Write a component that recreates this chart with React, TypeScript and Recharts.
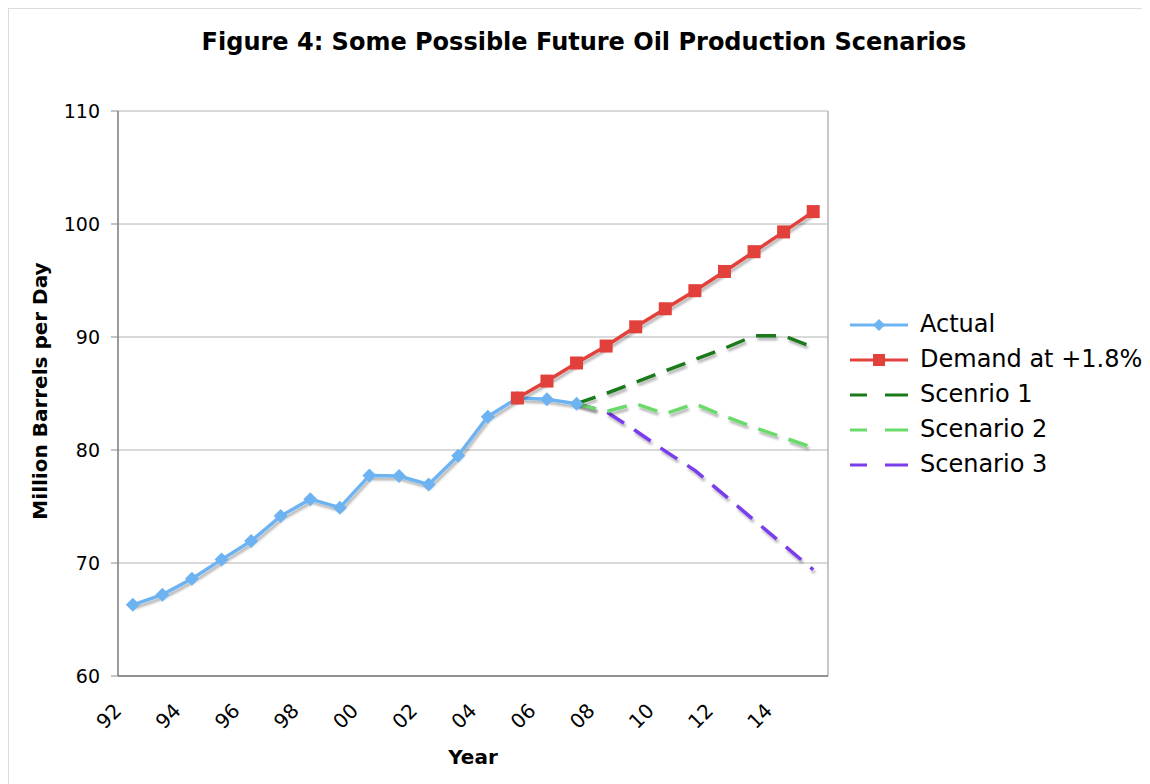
import React from 'react';
import { LineChart, Line, XAxis, YAxis, CartesianGrid, Legend, ReferenceLine } from 'recharts';

const FONT = '"DejaVu Sans", Verdana, sans-serif';

// Categories (years 1992-2015)
const years = ['92','93','94','95','96','97','98','99','00','01','02','03','04','05','06','07','08','09','10','11','12','13','14','15'];
const labelTicks = [0, 2, 4, 6, 8, 10, 12, 14, 16, 18, 20, 22];
const boundaryTicks = [-0.5,0.5,1.5,2.5,3.5,4.5,5.5,6.5,7.5,8.5,9.5,10.5,11.5,12.5,13.5,14.5,15.5,16.5,17.5,18.5,19.5,20.5,21.5,22.5,23.5];
const yTicks = [60, 70, 80, 90, 100, 110];

// Series values (million barrels per day)
const actual = [66.3, 67.2, 68.6, 70.3, 71.95, 74.15, 75.65, 74.9, 77.75, 77.7, 76.95, 79.5, 82.95, 84.6, 84.5, 84.1, null, null, null, null, null, null, null, null];
const demand = [null, null, null, null, null, null, null, null, null, null, null, null, null, 84.6, 86.1, 87.7, 89.2, 90.9, 92.5, 94.1, 95.8, 97.55, 99.3, 101.1];
const scenario1 = [null, null, null, null, null, null, null, null, null, null, null, null, null, null, null, 84.1, 85.0, 86.0, 87.0, 88.0, 89.0, 90.1, 90.1, 89.1];
const scenario2 = [null, null, null, null, null, null, null, null, null, null, null, null, null, null, null, 84.1, 83.4, 84.1, 83.2, 84.1, 83.0, 82.0, 81.1, 80.2];
const scenario3 = [null, null, null, null, null, null, null, null, null, null, null, null, null, null, null, 84.1, 83.4, 81.7, 79.9, 78.2, 76.0, 73.8, 71.6, 69.4];

const seriesKeys = ['actual', 'demand', 's1', 's2', 's3'];
const seriesNames = ['Actual', 'Demand at +1.8%', 'Scenrio 1', 'Scenario 2', 'Scenario 3'];
const seriesColors = ['#6DB3F2', '#E2403B', '#1A7A1A', '#6ADB6A', '#7A3DEB'];
const seriesMarkers = ['diamond', 'square', 'none', 'none', 'none'];

const data = years.map((y, i) => ({
  idx: i,
  year: y,
  actual: actual[i],
  demand: demand[i],
  s1: scenario1[i],
  s2: scenario2[i],
  s3: scenario3[i],
}));

const makeDiamond = (color: string) => (props: any) => {
  const { cx, cy, value, index } = props;
  if (value == null || cx == null || cy == null) return <g key={`d-${index}`} />;
  const r = 7;
  return (
    <path
      key={`d-${index}`}
      d={`M${cx},${cy - r} L${cx + r},${cy} L${cx},${cy + r} L${cx - r},${cy} Z`}
      fill={color}
    />
  );
};

const makeSquare = (color: string) => (props: any) => {
  const { cx, cy, value, index } = props;
  if (value == null || cx == null || cy == null) return <g key={`s-${index}`} />;
  const h = 6.5;
  return <rect key={`s-${index}`} x={cx - h} y={cy - h} width={2 * h} height={2 * h} fill={color} />;
};

const XTick = (props: any) => {
  const { x, y, payload } = props;
  const ax = x - 10;
  const ay = y + 36;
  return (
    <text
      x={ax}
      y={ay}
      transform={`rotate(-45, ${ax}, ${ay})`}
      textAnchor="end"
      fontSize={20}
      fontFamily={FONT}
      fill="#000"
    >
      {years[payload.value]}
    </text>
  );
};

const LegendContent = () => (
  <div style={{ fontFamily: FONT, fontSize: 24, color: '#000' }}>
    {seriesKeys.map((k, i) => (
      <div key={k} style={{ display: 'flex', alignItems: 'center', height: 35 }}>
        <svg width={60} height={20} style={{ display: 'block' }}>
          <line
            x1={0}
            y1={10}
            x2={58}
            y2={10}
            stroke={seriesColors[i]}
            strokeWidth={3}
            strokeDasharray={seriesMarkers[i] === 'none' ? '17 18 23' : undefined}
          />
          {seriesMarkers[i] === 'diamond' && <path d="M29,4 L35,10 L29,16 L23,10 Z" fill={seriesColors[i]} />}
          {seriesMarkers[i] === 'square' && <rect x={23} y={4} width={12} height={12} fill={seriesColors[i]} />}
        </svg>
        <span style={{ marginLeft: 10, lineHeight: '35px', whiteSpace: 'nowrap' }}>{seriesNames[i]}</span>
      </div>
    ))}
  </div>
);

const W = 1141;
const H = 775;

export default function App() {
  return (
    <div style={{ width: 1142, height: 776, borderTop: '1px solid #dcdcdc', borderLeft: '1px solid #dcdcdc', position: 'relative' }}>
      <style>{`.recharts-line { filter: url(#lineShadow); }`}</style>
      <LineChart
        width={W}
        height={H}
        data={data}
        margin={{ top: 102, right: 322, bottom: 8, left: 0 }}
      >
        <defs>
          <filter id="lineShadow" x="-10%" y="-10%" width="120%" height="120%">
            <feDropShadow dx="1.5" dy="3" stdDeviation="1" floodColor="#000" floodOpacity="0.28" />
          </filter>
        </defs>
        <text x={575} y={41} textAnchor="middle" fontFamily={FONT} fontWeight="bold" fontSize={24} fill="#000">
          Figure 4: Some Possible Future Oil Production Scenarios
        </text>
        <text
          x={38}
          y={382}
          transform="rotate(-90, 38, 382)"
          textAnchor="middle"
          fontFamily={FONT}
          fontWeight="bold"
          fontSize={20}
          fill="#000"
        >
          Million Barrels per Day
        </text>
        <text x={464} y={755} textAnchor="middle" fontFamily={FONT} fontWeight="bold" fontSize={20} fill="#000">
          Year
        </text>
        <CartesianGrid xAxisId="cat" horizontal vertical={false} stroke="#b4b4b4" strokeWidth={1} />
        <XAxis
          xAxisId="bounds"
          type="number"
          domain={[-0.5, 23.5]}
          ticks={boundaryTicks}
          tick={false}
          tickSize={7}
          tickLine={{ stroke: '#8a8a8a' }}
          axisLine={false}
          height={0}
          allowDataOverflow
        />
        <XAxis
          xAxisId="cat"
          dataKey="idx"
          type="number"
          domain={[-0.5, 23.5]}
          ticks={labelTicks}
          interval={0}
          tick={<XTick />}
          tickLine={false}
          tickSize={0}
          tickMargin={0}
          axisLine={{ stroke: '#7a7a7a', strokeWidth: 1.5 }}
          height={100}
          allowDataOverflow
        />
        <YAxis
          domain={[60, 110]}
          ticks={yTicks}
          width={109}
          tickSize={7}
          tickMargin={11}
          tick={{ fontSize: 19, fontFamily: FONT, fill: '#000' }}
          tickLine={{ stroke: '#8a8a8a' }}
          axisLine={{ stroke: '#7a7a7a', strokeWidth: 1.5 }}
          allowDataOverflow
        />
        <ReferenceLine xAxisId="cat" x={23.5} stroke="#b4b4b4" strokeWidth={1.5} ifOverflow="visible" />
        <Legend
          layout="horizontal"
          align="center"
          verticalAlign="middle"
          wrapperStyle={{ position: 'absolute', left: 841, top: 298, width: 300, height: 180 }}
          content={<LegendContent />}
        />
        <Line
          xAxisId="cat"
          dataKey="s3"
          name={seriesNames[4]}
          stroke={seriesColors[4]}
          strokeWidth={3.5}
          strokeDasharray="20 12"
          dot={false}
          activeDot={false}
          isAnimationActive={false}
          connectNulls={false}
        />
        <Line
          xAxisId="cat"
          dataKey="s2"
          name={seriesNames[3]}
          stroke={seriesColors[3]}
          strokeWidth={3.5}
          strokeDasharray="20 12"
          dot={false}
          activeDot={false}
          isAnimationActive={false}
        />
        <Line
          xAxisId="cat"
          dataKey="s1"
          name={seriesNames[2]}
          stroke={seriesColors[2]}
          strokeWidth={3.5}
          strokeDasharray="20 12"
          dot={false}
          activeDot={false}
          isAnimationActive={false}
        />
        <Line
          xAxisId="cat"
          dataKey="actual"
          name={seriesNames[0]}
          stroke={seriesColors[0]}
          strokeWidth={3.5}
          dot={makeDiamond(seriesColors[0])}
          activeDot={false}
          isAnimationActive={false}
        />
        <Line
          xAxisId="cat"
          dataKey="demand"
          name={seriesNames[1]}
          stroke={seriesColors[1]}
          strokeWidth={3.5}
          dot={makeSquare(seriesColors[1])}
          activeDot={false}
          isAnimationActive={false}
        />
      </LineChart>
    </div>
  );
}
